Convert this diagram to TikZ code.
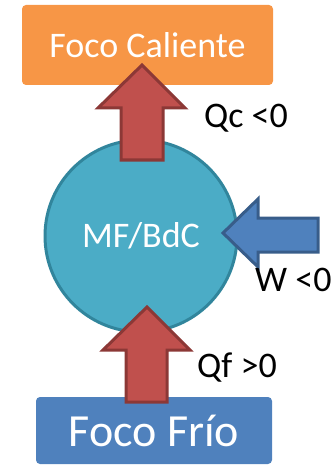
\documentclass[tikz,border=0pt]{standalone}
\usepackage{fontspec}
\setmainfont{Carlito}
\definecolor{focoorange}{HTML}{F79646}
\definecolor{focoblue}{HTML}{4F81BD}
\definecolor{focoblueedge}{HTML}{385D8A}
\definecolor{machinefill}{HTML}{4BACC6}
\definecolor{machineedge}{HTML}{31859C}
\definecolor{heatred}{HTML}{C0504D}
\definecolor{heatrededge}{HTML}{8C3836}
\usetikzlibrary{positioning}

\begin{document}
\begin{tikzpicture}[x=1pt, y=-1pt,
    focobox/.style={rounded corners=4pt, inner sep=0pt, text=white},
    heatarrow/.style={fill=heatred, draw=heatrededge, line width=3pt, line join=miter},
    workarrow/.style={fill=focoblue, draw=focoblueedge, line width=3pt, line join=miter},
    label/.style={font=\fontsize{36}{40}\selectfont, text=black, inner sep=0pt}]
  \useasboundingbox (0,0) rectangle (333,465);
  % Reservoirs
  \node[focobox, fill=focoorange, minimum width=251pt, minimum height=80pt,
        font=\fontsize{36}{40}\selectfont] (caliente) at (147.5,45) {Foco Caliente};
  \node[focobox, fill=focoblue, minimum width=236pt, minimum height=67pt,
        font=\fontsize{46}{50}\selectfont] (frio) at (154,430.5) {Foco Frío};
  % Machine
  \node[circle, fill=machinefill, draw=machineedge, line width=3pt, minimum size=192pt,
        inner sep=0pt, text=white, font=\fontsize{36}{40}\selectfont] (mf) at (141,236) {MF/BdC};
  % Qc arrow
  \draw[heatarrow] (121,160) -- (121,108) -- (98,108) -- (142,65)
    -- (185,108) -- (163,108) -- (163,160) -- cycle;
  % Qf arrow
  \draw[heatarrow] (126,402) -- (126,350) -- (103,350) -- (147,307)
    -- (190,350) -- (167,350) -- (167,402) -- cycle;
  % W arrow
  \draw[workarrow] (318,218) -- (258,218) -- (258,199) -- (223,233)
    -- (258,267) -- (258,252) -- (318,252) -- cycle;
  % Labels
  \node[label] (qc) at (246,118) {Qc <0};
  \node[label, anchor=west] (w) at (255,280) {W <0};
  \node[label] (qf) at (237,368) {Qf >0};
\end{tikzpicture}
\end{document}
